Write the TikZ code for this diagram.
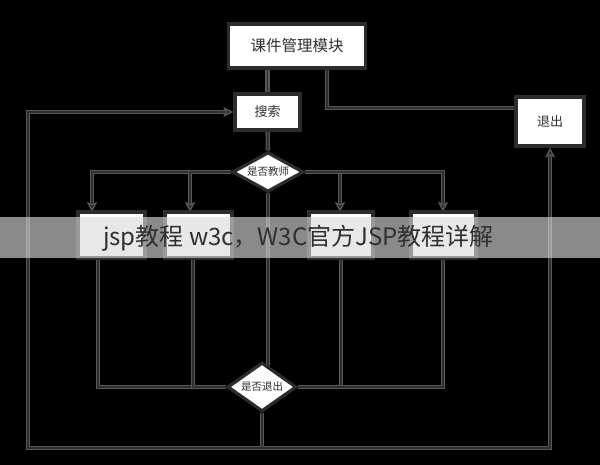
\documentclass[tikz,border=0pt]{standalone}
\usepackage{fontspec}
\setmainfont{Noto Sans CJK SC}
\usetikzlibrary{shapes.geometric,arrows.meta}
\pgfdeclarelayer{bg}
\pgfsetlayers{bg,main}
\definecolor{linegray}{HTML}{575757}
\definecolor{linecore}{HTML}{2E2E2E}
\definecolor{boxgray}{HTML}{2C2C2C}
\definecolor{txtgray}{HTML}{303030}
\tikzset{
  box/.style={draw=boxgray, line width=3.2pt, fill=white, text=txtgray, inner sep=0pt},
  test/.style={diamond, draw=boxgray, line width=3.2pt, fill=white, text=txtgray, inner sep=0pt, aspect=1.4},
  conn/.style={draw=linegray, line width=1.3pt, double=linecore, double distance=1.8pt},
  arr/.style={conn, -{Stealth[length=10pt,width=10pt,inset=2pt,fill=linecore]}},
}
\begin{document}
\begin{tikzpicture}[x=1pt, y=-1pt]
    \useasboundingbox (0,0) rectangle (600,465);

    \def\yt{212};
    \def\yb{258};
    \def\ymid{235};

% top row
    \node[box, minimum width=137pt, minimum height=44pt, font=\fontsize{15.5}{15.5}\selectfont] (mod) at (297,46) {课件管理模块};
    \node[box, minimum width=65pt, minimum height=36pt, font=\fontsize{13}{13}\selectfont] (srch) at (267.5,112) {搜索};
    \node[box, minimum width=68pt, minimum height=49pt, font=\fontsize{13}{13}\selectfont] (quit) at (550,121.5) {退出};

% decisions
    \node[test, minimum width=71pt, minimum height=37pt, font=\fontsize{10.5}{10.5}\selectfont] (tch) at (268,172) {是否教师};
    \node[test, minimum width=69pt, minimum height=49pt, font=\fontsize{10.5}{10.5}\selectfont] (qd) at (262,387) {是否退出};

% the four modules
    \node[box, minimum width=67pt, minimum height=46pt] (b1) at (111.5,\ymid) {};
    \node[box, minimum width=67pt, minimum height=46pt] (b2) at (198.5,\ymid) {};
    \node[box, minimum width=64pt, minimum height=46pt] (b3) at (341,\ymid) {};
    \node[box, minimum width=65pt, minimum height=46pt] (b4) at (443.5,\ymid) {};

% ends of the connectors
    \coordinate (mq) at (327,68);
    \coordinate (qin) at (516,108);
    \coordinate (a1) at (92,\yt);
    \coordinate (a2) at (190,\yt);
    \coordinate (a3) at (340,\yt);
    \coordinate (a4) at (443,\yt);
    \coordinate (c1) at (98,\yb);
    \coordinate (c2) at (193,\yb);
    \coordinate (c3) at (341,\yb);
    \coordinate (c4) at (443,\yb);
    \coordinate (lc) at (28,448);
    \coordinate (rc) at (550,448);

    \begin{pgfonlayer}{bg}
    \fill[black] (0,0) rectangle (600,465);
    \draw[conn] (srch.north |- mod.south) -- (srch.north);
    \draw[conn] (mq) |- (qin);
    \draw[conn] (srch) -- (tch);
    \draw[conn] (tch) -- (tch |- qd);

% branches
    \draw[arr] (tch) -| (a1);
    \draw[arr] (tch) -| (a2);
    \draw[arr] (tch) -| (a3);
    \draw[arr] (tch) -| (a4);

% back to the decision
    \draw[conn] (c1) |- (qd);
    \draw[conn] (c2) |- (qd);
    \draw[conn] (c3) |- (qd);
    \draw[conn] (c4) |- (qd);

% loops
    \draw[arr] (qd) |- (lc) |- (srch.west);
    \draw[arr] (qd |- rc) -- (rc) -- (quit.south);
    \end{pgfonlayer}

% watermark band
    \fill[white!86!black, opacity=0.63] (0,217) rectangle (600,258);
    \node[text=txtgray, font=\fontsize{24}{24}\selectfont, inner sep=0pt] (wm) at (298.5,238) {jsp教程 w3c，W3C官方JSP教程详解};
\end{tikzpicture}
\end{document}
